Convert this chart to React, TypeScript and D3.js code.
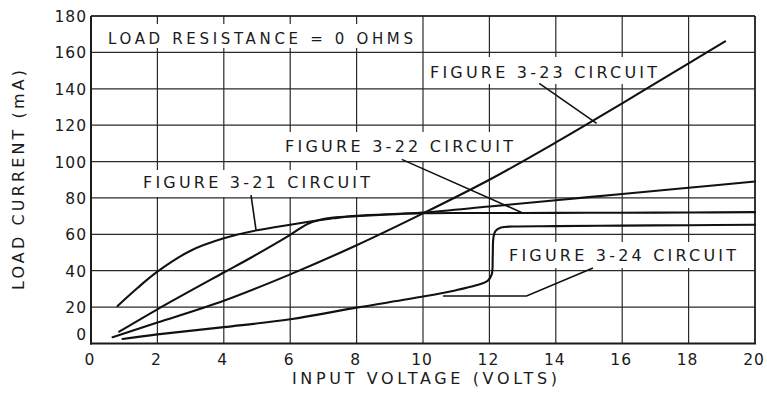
import { useRef, useEffect } from 'react';
import * as d3 from 'd3';

const xTicks = [0, 2, 4, 6, 8, 10, 12, 14, 16, 18, 20];
const yTicks = [0, 20, 40, 60, 80, 100, 120, 140, 160, 180];

// Figure 3-21 circuit
const fig21Volts = [0.8, 1.4, 2, 3, 4, 5, 6, 6.7, 7.3, 8, 10, 12, 14, 16, 18, 20];
const fig21Current = [20.6, 30.5, 39.5, 51, 57.8, 62.2, 65.3, 67.3, 68.8, 70.2, 72, 75.3, 78.7, 82.2, 85.6, 89];

// Figure 3-22 circuit
const fig22Volts = [0.85, 2, 4, 4.8, 6, 6.5, 6.9, 7.3, 8, 10, 12, 14, 16, 18, 20];
const fig22Current = [6.5, 18.8, 39, 47, 59.7, 65.5, 68, 69.2, 70, 71.6, 71.7, 71.8, 71.9, 72, 72.2];

// Figure 3-23 circuit
const fig23Volts = [0.65, 2, 4, 6, 8, 10, 12, 14, 16, 18, 19.1];
const fig23Current = [3.5, 11.5, 23.5, 38, 54, 71.5, 90, 110.5, 132, 154, 166];

// Figure 3-24 circuit
const fig24Volts = [0.95, 2, 4, 6, 8, 10, 11, 11.6, 11.95, 12.07, 12.1, 12.12, 12.18, 12.35, 12.7, 14, 16, 18, 20];
const fig24Current = [2.5, 5, 9, 13.3, 19.7, 25.8, 29.3, 32, 34.5, 38, 48, 58, 61.8, 63.7, 64.3, 64.5, 64.8, 65, 65.3];

// leader lines (volts, mA)
const leader21 = [[4.82, 81.6], [4.97, 62.4]];
const leader22 = [[9.36, 101.2], [13.02, 71.6]];
const leader23 = [[13.5, 143], [15.23, 121]];
const leader24 = [[10.6, 26.1], [13.12, 26.1], [15.12, 41.5]];

const labelTexts = [
  'LOAD RESISTANCE = 0 OHMS',
  'FIGURE 3-23 CIRCUIT',
  'FIGURE 3-22 CIRCUIT',
  'FIGURE 3-21 CIRCUIT',
  'FIGURE 3-24 CIRCUIT',
];

const zip = (xs: number[], ys: number[]) => xs.map((v, i) => [v, ys[i]] as [number, number]);

export default function App() {
  const svgRef = useRef<SVGSVGElement>(null);

  useEffect(() => {
    if (!svgRef.current) return;
    const svg = d3.select(svgRef.current);
    svg.selectAll('*').remove();

    const width = 767;
    const height = 400;
    const m = { left: 91, top: 16, right: 755, bottom: 343.5 };
    const ink = '#1a1a1a';
    const font = '"DejaVu Sans", Verdana, sans-serif';

    const x = d3.scaleLinear().domain([0, 20]).range([m.left, m.right]);
    const y = d3.scaleLinear().domain([0, 180]).range([m.bottom, m.top]);

    svg.append('rect').attr('width', width).attr('height', height).attr('fill', '#fff');

    // grid
    const grid = svg.append('g').attr('stroke', '#2a2a2a').attr('stroke-width', 1.2);
    grid.selectAll('line.v')
      .data(xTicks)
      .join('line')
      .attr('x1', (d) => x(d)).attr('x2', (d) => x(d))
      .attr('y1', y(0)).attr('y2', y(180));
    grid.selectAll('line.h')
      .data(yTicks)
      .join('line')
      .attr('class', 'h')
      .attr('x1', x(0)).attr('x2', x(20))
      .attr('y1', (d) => y(d)).attr('y2', (d) => y(d));

    // frame
    svg.append('line').attr('x1', x(0)).attr('x2', x(0)).attr('y1', y(0) + 1).attr('y2', y(180))
      .attr('stroke', ink).attr('stroke-width', 2);
    svg.append('line').attr('x1', x(0) - 1).attr('x2', x(20) + 1).attr('y1', y(0)).attr('y2', y(0))
      .attr('stroke', ink).attr('stroke-width', 2.2);
    svg.append('line').attr('x1', x(0)).attr('x2', x(20)).attr('y1', y(180)).attr('y2', y(180))
      .attr('stroke', ink).attr('stroke-width', 1.5);
    svg.append('line').attr('x1', x(20)).attr('x2', x(20)).attr('y1', y(0)).attr('y2', y(180))
      .attr('stroke', ink).attr('stroke-width', 1.5);

    // label layout: [textX, baseline, textLength, boxX, boxY, boxW, boxH, fontSize]
    const labelLayout = [
      [108, 44, 305, 100, 24, 318, 24, 15],
      [430, 77.5, 227, 425, 57, 237, 27, 16],
      [285, 151.5, 228, 280, 132, 238, 29, 16],
      [143, 188, 227, 138, 170, 237, 27, 16],
      [509, 261, 227, 504, 242, 236, 26, 16],
    ];

    svg.append('g').selectAll('rect')
      .data(labelLayout)
      .join('rect')
      .attr('x', (d) => d[3]).attr('y', (d) => d[4])
      .attr('width', (d) => d[5]).attr('height', (d) => d[6])
      .attr('fill', '#fff');

    // curves
    const line = d3.line<[number, number]>()
      .x((d) => x(d[0]))
      .y((d) => y(d[1]))
      .curve(d3.curveCatmullRom.alpha(0.5));

    const series = [
      zip(fig21Volts, fig21Current),
      zip(fig22Volts, fig22Current),
      zip(fig23Volts, fig23Current),
      zip(fig24Volts, fig24Current),
    ];
    svg.append('g').selectAll('path')
      .data(series)
      .join('path')
      .attr('d', (d) => line(d))
      .attr('fill', 'none')
      .attr('stroke', '#111')
      .attr('stroke-width', 2.1)
      .attr('stroke-linejoin', 'round')
      .attr('stroke-linecap', 'round');

    // leaders
    const straight = d3.line<number[]>().x((d) => x(d[0])).y((d) => y(d[1]));
    svg.append('g').selectAll('path')
      .data([leader21, leader22, leader23, leader24])
      .join('path')
      .attr('d', (d) => straight(d))
      .attr('fill', 'none')
      .attr('stroke', '#111')
      .attr('stroke-width', 1.6);

    // label text
    svg.append('g').selectAll('text')
      .data(labelLayout)
      .join('text')
      .attr('x', (d) => d[0]).attr('y', (d) => d[1])
      .attr('textLength', (d) => d[2])
      .attr('lengthAdjust', 'spacing')
      .attr('font-size', (d) => d[7])
      .attr('font-family', font)
      .attr('fill', ink)
      .text((_, i) => labelTexts[i]);

    // tick labels
    svg.append('g').selectAll('text')
      .data(yTicks)
      .join('text')
      .attr('x', x(0) - 4)
      .attr('y', (d) => y(d) + (d === 0 ? -3.5 : 6))
      .attr('text-anchor', 'end')
      .attr('font-size', 15.5)
      .attr('letter-spacing', 1)
      .attr('font-family', font)
      .attr('fill', ink)
      .text((d) => d);

    svg.append('g').selectAll('text')
      .data(xTicks)
      .join('text')
      .attr('x', (d) => x(d) - 1)
      .attr('y', y(0) + 21.5)
      .attr('text-anchor', 'middle')
      .attr('font-size', 15.5)
      .attr('letter-spacing', 1)
      .attr('font-family', font)
      .attr('fill', ink)
      .text((d) => d);

    // axis titles
    svg.append('text')
      .attr('x', 292).attr('y', 383.5)
      .attr('textLength', 265)
      .attr('lengthAdjust', 'spacing')
      .attr('font-size', 16)
      .attr('font-family', font)
      .attr('fill', ink)
      .text('INPUT VOLTAGE (VOLTS)');

    svg.append('text')
      .attr('transform', 'translate(23.5,290) rotate(-90)')
      .attr('textLength', 220)
      .attr('lengthAdjust', 'spacing')
      .attr('font-size', 16)
      .attr('font-family', font)
      .attr('fill', ink)
      .text('LOAD CURRENT (mA)');
  }, []);

  return (
    <svg
      ref={svgRef}
      width={767}
      height={400}
      viewBox="0 0 767 400"
      style={{ position: 'absolute', left: 0, top: 0, display: 'block' }}
    />
  );
}
